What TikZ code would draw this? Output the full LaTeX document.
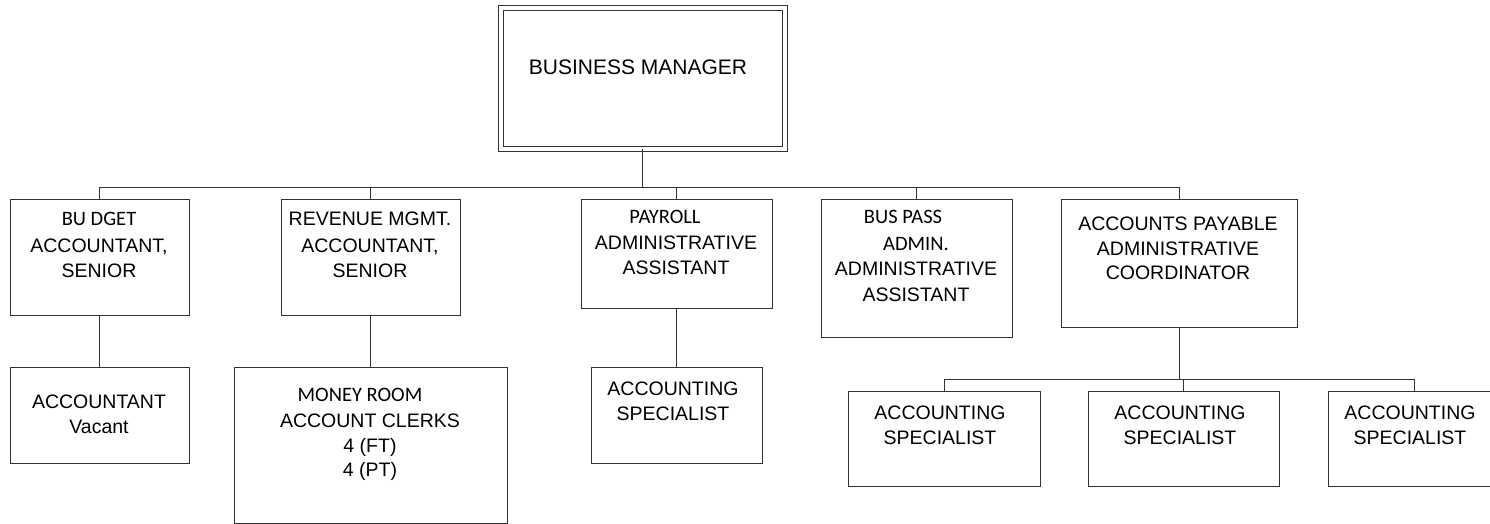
\documentclass[tikz,border=0pt]{standalone}
\usepackage{fontspec}
\setmainfont{Liberation Sans}
\newfontfamily\carlito{Carlito}
\tikzset{
  box/.style={draw=black!80, line width=0.9pt, rectangle, inner sep=0pt},
  txt/.style={align=center, inner sep=0pt, anchor=north, font=\fontsize{19.5}{24.5}\selectfont},
  link/.style={draw=black!80, line width=0.9pt},
}
\newcommand{\calib}[1]{{\carlito\fontsize{20.5}{24.5}\selectfont #1}}

\begin{document}
\begin{tikzpicture}[x=1pt, y=-1pt]
\path[use as bounding box, clip] (0,0) rectangle (1490,524);
% manager
\node[box, double, double distance=4pt, line width=1pt, minimum width=284pt, minimum height=140pt] (bm) at (642.5,78.5) {};
\node[txt, font=\fontsize{21}{25}\selectfont] (bm-t) at (638,60) {BUSINESS MANAGER};
% second row
\node[box, minimum width=179pt, minimum height=116pt] (budget)  at (99.5,257)  {};
\node[box, minimum width=179pt, minimum height=116pt] (revenue) at (370.5,257) {};
\node[box, minimum width=191pt, minimum height=109pt] (payroll) at (676.5,253.5) {};
\node[box, minimum width=191pt, minimum height=138pt] (buspass) at (916.5,268) {};
\node[box, minimum width=236pt, minimum height=128pt] (ap)      at (1179,263)  {};
\node[txt] (budget-t)  at (99,212)  {\calib{BU DGET}\\[2.5pt] ACCOUNTANT,\\ SENIOR};
\node[txt] (revenue-t) at (370,212) {REVENUE MGMT.\\[2.5pt] ACCOUNTANT,\\ SENIOR};
\node[txt] (payroll-t) at (676,210) {\calib{PAYROLL}\hspace*{22pt}\\[1.5pt] ADMINISTRATIVE\\ ASSISTANT};
\node[txt] (buspass-t) at (916,210) {\calib{BUS PASS}\hspace*{26pt}\\[2.5pt] \calib{ADMIN.}\hspace*{14pt}\\ ADMINISTRATIVE\\[1.5pt] ASSISTANT};
\node[txt] (ap-t)      at (1178,217) {ACCOUNTS PAYABLE\\ ADMINISTRATIVE\\ COORDINATOR};
% third row
\node[box, minimum width=179pt, minimum height=96pt]  (acct)     at (99.5,415)   {};
\node[box, minimum width=273pt, minimum height=156pt] (money)    at (370.5,445)  {};
\node[box, minimum width=171pt, minimum height=96pt]  (payspec)  at (676.5,415)  {};
\node[box, minimum width=192pt, minimum height=95pt]  (spec1)    at (944,438.5)  {};
\node[box, minimum width=191pt, minimum height=95pt]  (spec2)    at (1183.5,438.5) {};
\node[box, minimum width=172pt, minimum height=95pt]  (spec3)    at (1414,438.5) {};
\node[txt] (acct-t)    at (99,395)  {ACCOUNTANT\\ Vacant};
\node[txt] (money-t)   at (370,388) {\calib{MONEY ROOM}\hspace*{20pt}\\[1.5pt] ACCOUNT CLERKS\\ 4 (FT)\\ 4 (PT)};
\node[txt] (payspec-t) at (673,382) {ACCOUNTING\\ SPECIALIST};
\node[txt] (spec1-t)   at (940,406) {ACCOUNTING\\ SPECIALIST};
\node[txt] (spec2-t)   at (1180,406) {ACCOUNTING\\ SPECIALIST};
\node[txt] (spec3-t)   at (1410,406) {ACCOUNTING\\ SPECIALIST};
% links
\coordinate (bus) at (643,187);
\coordinate (apbus) at (1179,379);
\draw[link] (bm.south) -- (bm.south |- bus);
\foreach \n in {budget,revenue,payroll,buspass,ap}
  \draw[link] (\n.north) |- (bus);
\draw[link] (budget) -- (acct);
\draw[link] (revenue) -- (money);
\draw[link] (payroll) -- (payspec);
\draw[link] (ap.south) -- (apbus);
\foreach \n in {spec1,spec2,spec3}
  \draw[link] (\n.north) |- (apbus);
\end{tikzpicture}
\end{document}
